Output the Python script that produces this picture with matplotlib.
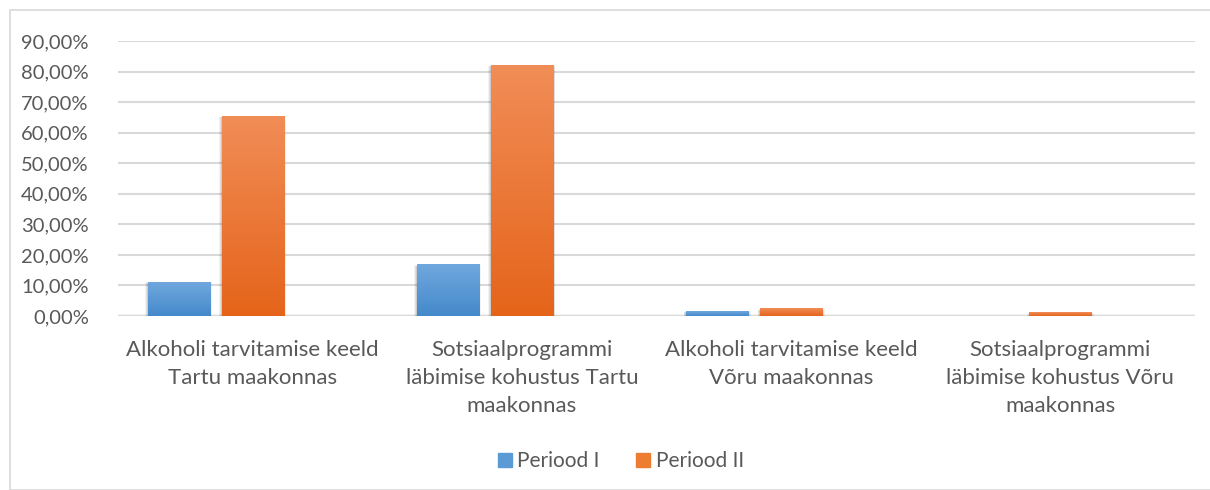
import matplotlib
matplotlib.use("Agg")
import matplotlib.pyplot as plt
import numpy as np
from matplotlib.patches import Rectangle
from matplotlib.colors import LinearSegmentedColormap
from matplotlib.lines import Line2D

categories = [
    "Alkoholi tarvitamise keeld\nTartu maakonnas",
    "Sotsiaalprogrammi\nläbimise kohustus Tartu\nmaakonnas",
    "Alkoholi tarvitamise keeld\nVõru maakonnas",
    "Sotsiaalprogrammi\nläbimise kohustus Võru\nmaakonnas",
]
series_names = ["Periood I", "Periood II"]
periood_1 = [0.111, 0.167, 0.016, 0.0]
periood_2 = [0.654, 0.820, 0.023, 0.010]
yticks = [0.0, 0.1, 0.2, 0.3, 0.4, 0.5, 0.6, 0.7, 0.8, 0.9]
ytick_labels = ["0,00%", "10,00%", "20,00%", "30,00%", "40,00%", "50,00%",
                "60,00%", "70,00%", "80,00%", "90,00%"]

plt.rcParams['font.family'] = ['Lato', 'DejaVu Sans']
W, H = 1210, 490
fig = plt.figure(figsize=(W / 100, H / 100), dpi=100)

# outer chart border
fig.patches.append(Rectangle((10 / W, 0), 1.2, (H - 10) / H, transform=fig.transFigure,
                             fill=False, edgecolor="#d9d9d9", linewidth=1.2))

left, right, y0, ytop = 118, 1195, 316, 41
ax = fig.add_axes([left / W, (H - y0) / H, (right - left) / W, (y0 - ytop) / H])
ax.set_xlim(0, 4)
ax.set_ylim(0, 0.9)

for s in ax.spines.values():
    s.set_visible(False)
ax.set_yticks(yticks)
ax.set_yticklabels(ytick_labels, color="#595959", fontsize=14.5)
ax.tick_params(axis='y', length=0, pad=21)
ax.set_xticks([i + 0.5 for i in range(4)])
ax.set_xticklabels(categories, color="#595959", fontsize=16, linespacing=1.5)
ax.tick_params(axis='x', length=0, pad=17)
ax.grid(axis='y', color="#d9d9d9", linewidth=1.5)
ax.set_axisbelow(True)
ax.axhline(0, color="#d9d9d9", linewidth=2.5, zorder=1)

blue_cmap = LinearSegmentedColormap.from_list("b", ["#4489cb", "#70a8de"])
orange_cmap = LinearSegmentedColormap.from_list("o", ["#e5641a", "#f18d57"])

step = 74 / 269
bw = 62 / 269
offsets = [-step, 0.0]

def draw_bar(xc, h, cmap):
    if h <= 0:
        return
    x0 = xc - bw / 2
    # soft shadow
    for k, a in zip([0.018, 0.012, 0.006], [0.05, 0.07, 0.09]):
        ax.add_patch(Rectangle((x0 - k * 0.5, -0.004 - k * 0.15), bw + k, h + k * 0.3,
                               facecolor="#000000", alpha=a, edgecolor="none", zorder=2))
    g = np.linspace(0, 1, 256).reshape(-1, 1)
    ax.imshow(g, extent=[x0, x0 + bw, 0, h], origin='lower', aspect='auto',
              cmap=cmap, vmin=0, vmax=1, zorder=3, interpolation='bilinear')

for i in range(4):
    draw_bar(i + 0.5 + offsets[0], periood_1[i], blue_cmap)
    draw_bar(i + 0.5 + offsets[1], periood_2[i], orange_cmap)

ax.set_xlim(0, 4)
ax.set_ylim(0, 0.9)

# legend
handles = [Line2D([], [], marker='s', linestyle='none', markersize=9.5, color="#5b9bd5"),
           Line2D([], [], marker='s', linestyle='none', markersize=9.5, color="#ed7d31")]
fig.legend(handles, series_names, loc='center', bbox_to_anchor=(619 / W, 1 - 461 / H),
           ncol=2, frameon=False, fontsize=15, labelcolor="#595959",
           handletextpad=0.1, columnspacing=1.6, handlelength=1.0)

fig.savefig("out.png", dpi=100)
